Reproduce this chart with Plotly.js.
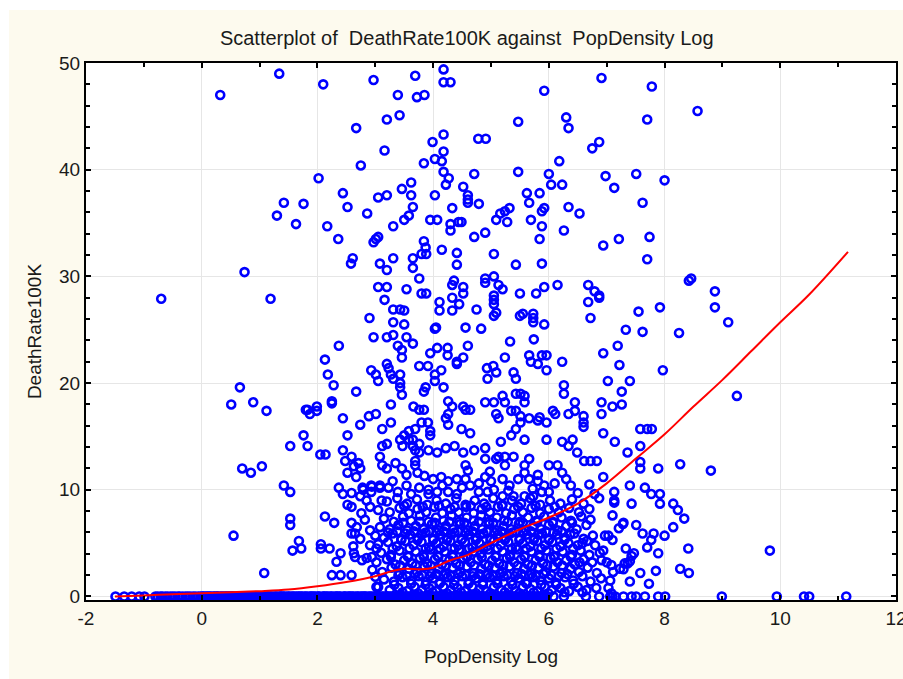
<!DOCTYPE html>
<html>
<head>
<meta charset="utf-8">
<script src="https://cdn.plot.ly/plotly-3.0.1.min.js"></script>
<style>
  html, body { margin: 0; padding: 0; background: #ffffff; width: 903px; height: 679px; overflow: hidden; }
  #chart { position: absolute; left: 9px; top: 10px; width: 894px; height: 669px; }
</style>
</head>
<body>
<div id="chart"></div>
<script>
// Title / axis labels
const chartTitle = "Scatterplot of  DeathRate100K against  PopDensity Log";
const xTitle = "PopDensity Log";
const yTitle = "DeathRate100K";
const xTickVals = [-2, 0, 2, 4, 6, 8, 10, 12];
const yTickVals = [0, 10, 20, 30, 40, 50];

// Sparse / outlying points [PopDensity Log, DeathRate100K]
const outerPts = [
  [0.32,47.0],[1.34,49.0],[2.10,48.0],[2.67,43.9],[2.02,39.2],[2.44,37.8],[1.42,36.9],[1.76,36.8],[2.52,36.5],[1.30,35.7],[1.63,34.9],[2.17,34.7],[2.36,33.5],[2.61,31.7],[2.58,31.2],[0.74,30.4],[-0.70,27.9],[1.19,27.9],
  [2.97,48.4],[3.69,48.8],[4.18,49.4],[4.18,48.2],[4.30,48.2],[3.39,47.0],[3.72,46.8],[3.85,47.0],[5.92,47.4],[6.91,48.6],[3.20,44.7],[3.42,45.1],[5.47,44.5],[6.30,44.9],[6.34,43.9],[4.18,43.3],[3.99,42.6],[4.78,42.9],[4.91,42.9],[3.16,41.8],[4.18,41.7],[4.03,41.0],[4.15,40.8],[3.84,40.6],[2.75,40.4],[6.75,42.0],[6.87,42.6],[6.18,40.8],[4.18,39.8],[4.27,39.2],[4.22,38.6],[4.71,39.6],[5.47,39.8],[6.00,39.6],[6.04,38.6],[6.23,38.6],[6.98,39.4],[7.13,38.3],[3.62,38.8],[3.46,38.2],[3.62,37.6],[3.65,36.5],[3.05,37.4],[3.20,37.6],[4.03,37.6],[4.52,38.4],[4.60,37.6],[4.60,37.2],[4.60,36.9],[4.79,36.8],[4.33,36.4],[2.86,35.9],[3.58,35.7],[3.50,35.3],[3.31,34.7],[3.95,35.3],[4.07,35.3],[4.30,34.9],[4.30,34.3],[4.44,35.1],[4.49,35.1],[4.90,34.1],[4.71,33.7],[5.09,35.3],[5.16,35.9],[5.24,36.1],[5.32,36.4],[5.28,35.1],[5.69,35.3],[5.62,37.8],[5.66,36.9],[5.84,37.8],[5.88,36.1],[5.92,36.4],[5.88,34.7],[5.84,33.5],[6.34,36.5],[6.53,35.9],[6.26,34.3],[6.94,32.9],[7.21,33.5],[2.97,33.2],[3.01,33.5],[3.05,33.7],[3.84,33.3],[3.87,32.7],[3.80,32.1],[3.88,32.1],[3.08,31.2],[3.20,30.6],[3.31,31.7],[3.65,31.7],[3.65,30.8],[3.76,29.8],[4.15,32.5],[4.41,32.2],[4.41,31.1],[5.05,32.1],[5.43,31.1],[5.88,31.2],[5.05,30.0],[4.90,29.8],[4.90,29.4],[4.36,29.6],[4.33,29.2],[4.52,29.0],[4.52,28.4],[5.13,29.2],[5.20,28.8],[3.05,29.0],[3.20,29.0],[3.54,28.8],[3.80,28.4],[3.88,28.4],[3.16,27.8],[3.31,26.9],[3.43,26.9],[3.50,26.8],[2.90,26.1],[3.31,25.7],[3.50,25.5],[4.11,27.6],[4.11,26.8],[4.33,28.0],[4.33,26.8],[4.45,27.4],[4.75,26.9],[5.05,28.2],[5.05,27.8],[5.05,27.4],[5.09,26.6],[5.05,26.3],[5.50,28.4],[5.78,28.4],[5.92,29.0],[6.15,29.2],[5.50,26.3],[5.55,26.5],[5.73,26.5],[5.73,26.1],[5.73,25.7],[5.92,25.5],[6.68,29.2],[6.79,28.6],[6.87,28.2],[6.87,28.0],[6.68,27.6],[6.72,26.1],[4.05,25.2],[4.03,25.1],[4.56,25.2],[4.83,25.1],
  [7.78,47.8],[7.70,44.7],[8.57,45.5],[7.51,39.6],[8.00,39.0],[7.62,36.9],[7.74,33.7],[7.70,31.6],[8.42,29.6],[8.46,29.8],[8.87,28.6],[7.92,27.1],[7.55,26.7],[8.87,27.1],[9.10,25.7],[7.33,25.0],[7.62,24.8],[8.25,24.7],
  [2.37,23.5],[2.13,22.2],[2.18,20.8],[2.28,19.8],[2.25,18.3],[2.25,18.1],[2.44,16.7],[2.67,19.2],[0.66,19.6],[0.51,18.0],[0.89,18.2],[1.12,17.4],[1.80,17.5],[1.83,17.5],[1.87,17.1],[1.99,17.8],[1.99,17.4],[1.76,15.1],[1.83,14.1],[1.53,14.1],[2.52,15.1],[2.05,13.3],[2.14,13.3],[2.44,13.7],[2.48,12.7],[2.52,11.6],[2.59,13.1],[2.63,12.2],[0.70,12.0],[0.85,11.6],[1.04,12.2],[1.42,10.4],[1.53,9.8],[2.37,10.2],[2.44,9.6],[2.52,8.6],[1.53,7.3],[1.53,6.7],[2.13,7.5],[2.29,6.9],[2.59,6.9],[2.59,5.9],[0.55,5.7],[1.68,5.2],[1.57,4.3],[1.72,4.5],[2.06,4.9],[2.06,4.5],[2.21,4.5],[2.40,4.05],[2.33,3.25],[2.63,4.05],[1.08,2.2],[2.25,2.0],[2.40,2.0],[2.59,2.0],
  [2.65,3.7],[2.62,4.7],[2.77,3.4],[2.85,3.6],[2.94,3.7],[2.91,4.8],[2.91,6.2],[3.02,4.5],[3.00,1.85],[3.02,0.9],[2.65,5.9],[2.74,5.4],[2.68,6.5],[2.74,9.4],[2.79,10.0],[2.76,7.8],[2.82,7.2],[2.91,8.4],[2.85,9.0],[2.94,10.3],[3.08,10.4],[3.11,9.0],[2.59,9.7],[2.59,8.4],
  [2.97,24.3],[3.20,24.3],[3.31,24.5],[3.54,24.3],[5.33,23.9],[5.74,24.1],[3.39,23.5],[3.46,23.1],[3.46,22.4],[3.65,23.7],[3.95,22.8],[4.07,23.3],[4.25,22.6],[4.25,23.3],[4.41,22.0],[4.41,21.8],[4.52,22.4],[4.60,23.5],[5.24,22.4],[5.66,22.6],[5.69,22.0],[5.81,21.8],[5.88,22.6],[5.96,22.6],[5.96,21.2],[6.23,22.0],[6.94,22.8],[7.19,23.5],[7.22,21.7],
  [2.93,21.2],[3.01,20.8],[3.05,20.2],[3.20,21.8],[3.23,21.4],[3.27,20.8],[3.31,20.4],[3.43,20.8],[3.43,19.6],[3.46,18.9],[3.43,20.0],[3.76,21.6],[3.91,21.6],[4.03,20.8],[4.03,20.2],[4.14,21.2],[4.18,19.6],[3.87,19.6],[3.84,19.2],
  [4.93,21.4],[5.04,21.6],[5.09,21.0],[4.94,20.4],[4.90,18.2],[5.05,18.2],[5.20,18.8],[5.24,18.2],[5.39,21.0],[5.43,20.4],[5.43,19.0],[5.51,19.0],[5.58,18.8],[5.58,18.2],[5.43,17.4],[5.35,17.4],[6.26,19.8],[6.26,19.0],[6.45,18.2],[6.91,18.2],[7.02,20.2],[7.10,17.8],[7.26,19.2],[7.26,18.0],
  [3.27,18.0],[3.66,17.8],[3.76,17.5],[3.84,17.5],[4.26,18.3],[4.33,17.8],[4.52,17.8],[4.56,17.5],[4.64,17.5],[4.26,17.1],[4.22,16.7],[4.26,16.1],[4.49,15.7],[4.64,15.3],[2.89,16.9],[3.01,17.1],[2.74,16.1],
  [3.12,15.7],[3.27,16.3],[3.58,15.5],[3.50,15.1],[3.69,15.7],[3.80,16.3],[3.91,16.3],[3.95,15.5],[3.95,15.1],[3.65,14.1],
  [5.09,17.1],[5.13,16.7],[5.51,16.9],[5.51,16.3],[5.43,15.7],[5.35,15.1],[5.58,14.7],[5.66,16.7],[5.81,16.5],[5.84,16.8],[5.96,16.3],[6.07,17.4],[6.11,17.1],[6.34,17.1],[6.45,17.4],[6.60,16.9],[6.60,16.3],[6.60,15.9],[6.91,17.1],[6.94,15.3],[7.14,14.5],
  [5.96,14.7],[6.23,14.5],[6.34,14.1],[6.41,14.7],[6.49,13.5],[6.61,12.7],[6.72,12.7],[6.83,12.7],
  [3.12,14.1],[3.20,14.3],[3.43,14.7],[3.47,14.1],[3.58,14.7],[3.65,14.7],[3.76,14.3],[3.76,13.5],[3.92,13.7],[3.69,13.7],
  [4.07,13.5],[4.22,13.9],[4.37,14.1],[4.52,13.5],[4.71,13.7],[4.90,13.9],[4.90,12.9],[5.17,14.5],[5.09,12.9],[5.13,13.1],[5.24,13.1],[5.39,13.1],[5.66,12.9],[5.58,12.3],[5.24,12.3],[4.98,11.7],
  [2.71,12.5],[2.74,12.0],[2.67,11.2],[2.78,10.2],[2.93,10.4],[2.93,9.8],[3.08,13.1],[3.12,12.3],[3.20,12.0],[3.35,12.5],[3.46,12.0],[3.54,11.4],[3.69,12.3],[3.69,12.7],[3.73,11.6],
  [4.00,11.0],[4.14,11.2],[4.26,10.8],[4.41,11.0],[4.56,12.3],[4.60,11.8],[4.56,11.0],[4.64,10.4],[4.79,10.6],[4.79,9.8],[4.41,9.6],[4.26,9.8],[4.07,9.8],[3.92,9.6],[3.92,10.0],[3.76,10.2],[3.54,10.4],[3.39,9.8],[3.23,10.2],[3.08,10.2],
  [5.20,11.0],[5.32,10.4],[5.47,11.0],[5.58,11.6],[5.66,11.0],[5.81,11.4],[5.81,10.8],[5.92,10.4],[6.00,12.3],[6.15,12.3],[6.23,11.6],[6.30,11.0],[6.38,10.4],[6.00,9.8],[5.88,9.8],[5.73,9.4],[5.58,9.4],[5.39,9.4],[5.20,9.4],[5.05,10.0],[4.94,9.8],
  [6.79,9.6],[6.87,9.2],[6.94,11.2],[7.13,9.8],[7.13,9.0],[7.10,7.6],[7.29,6.9],[7.13,8.8],[7.28,6.8],[7.21,6.4],[6.97,5.7],[7.03,5.7],[7.10,5.3],[6.94,4.3],[6.91,3.4],[7.00,3.2],[7.08,2.95],[7.11,2.3],[7.06,1.5],[7.03,0.8],[7.08,0.3],[7.29,2.55],[7.23,2.6],[7.31,3.1],
  [7.97,21.2],[7.40,20.2],[9.25,18.8],[7.58,15.7],[7.70,15.7],[7.78,15.7],[7.58,14.1],[7.36,13.5],[7.58,12.6],[7.58,12.0],[7.89,12.0],[8.27,12.4],[8.80,11.8],[7.40,10.4],[7.66,10.2],[7.77,9.6],[7.92,9.6],[7.43,8.7],[7.92,8.7],[8.15,8.7],[8.23,8.1],[8.34,7.3],[7.51,6.7],[7.62,5.9],[7.81,5.9],[8.00,5.7],[8.15,6.5],[7.77,5.3],[7.70,4.6],[8.41,4.5],[9.82,4.3],[7.33,4.5],[7.43,3.8],[7.47,4.05],[7.36,3.1],[7.40,3.3],[7.89,4.05],[7.58,2.2],[7.85,2.4],[8.27,2.6],[8.42,2.2],[7.40,1.4],[7.73,1.2]
];

// Dense cluster points (low death rates, mid densities)
const densePts = [
  [3.05,0.9],[3.25,0.6],[3.40,0.8],[3.55,0.5],[3.68,0.9],[3.80,0.6],[3.93,0.8],[4.05,0.5],[4.18,0.9],[4.30,0.6],[4.42,0.8],[4.55,0.5],[4.68,0.9],[4.80,0.7],[4.92,0.5],[5.05,0.9],[5.18,0.6],[5.30,0.8],[5.43,0.5],[5.55,0.9],[5.68,0.7],[5.80,0.5],[5.93,0.9],[6.05,0.6],[6.20,0.8],[6.35,0.5],[6.50,0.9],[6.65,0.6],[6.82,0.8],
  [3.33,1.1],[3.47,0.4],[3.62,1.2],[3.74,0.3],[3.87,1.1],[3.99,0.4],[4.11,1.2],[4.24,0.3],[4.36,1.1],[4.48,0.4],[4.61,1.2],[4.74,0.3],[4.86,1.1],[4.99,0.3],[5.11,1.2],[5.24,0.4],[5.37,1.1],[5.49,0.3],[5.62,1.2],[5.74,0.4],[5.87,1.1],[5.99,0.3],[6.13,1.1],[6.27,0.4],[6.43,1.2],[6.58,0.4],
  [3.15,1.6],[3.32,1.4],[3.47,1.8],[3.62,1.5],[3.75,1.9],[3.88,1.4],[4.00,1.7],[4.12,1.3],[4.25,1.8],[4.37,1.5],[4.50,1.9],[4.62,1.4],[4.74,1.7],[4.86,1.3],[4.98,1.8],[5.10,1.5],[5.22,1.9],[5.35,1.4],[5.48,1.7],[5.60,1.3],[5.72,1.8],[5.85,1.5],[6.00,1.7],[6.12,1.3],[6.28,1.8],[6.42,1.5],[6.58,1.9],[6.72,1.4],[6.90,1.7],
  [3.40,2.0],[3.55,1.9],[3.68,2.1],[3.81,2.0],[3.94,1.9],[4.06,2.1],[4.18,2.0],[4.31,1.9],[4.43,2.1],[4.56,2.0],[4.68,1.9],[4.80,2.1],[4.92,2.0],[5.04,1.9],[5.16,2.1],[5.28,2.0],[5.41,1.9],[5.53,2.1],[5.66,2.0],[5.78,1.9],[5.91,2.1],[6.04,2.0],[6.17,1.9],[6.32,2.1],
  [2.95,2.5],[3.12,2.3],[3.28,2.7],[3.42,2.2],[3.58,2.6],[3.72,2.3],[3.85,2.8],[3.97,2.2],[4.10,2.6],[4.22,2.1],[4.34,2.7],[4.47,2.3],[4.58,2.8],[4.70,2.2],[4.83,2.6],[4.95,2.1],[5.07,2.7],[5.20,2.3],[5.32,2.8],[5.45,2.2],[5.57,2.6],[5.70,2.1],[5.82,2.7],[5.95,2.3],[6.08,2.8],[6.22,2.2],[6.38,2.6],[6.52,2.3],[6.67,2.7],[6.83,2.2],
  [3.02,3.2],[3.20,3.5],[3.35,3.0],[3.50,3.4],[3.64,3.1],[3.77,3.6],[3.90,3.1],[4.03,3.5],[4.15,3.0],[4.28,3.4],[4.40,3.1],[4.52,3.6],[4.65,3.2],[4.77,3.5],[4.90,3.0],[5.02,3.4],[5.14,3.1],[5.27,3.6],[5.40,3.2],[5.52,3.5],[5.64,3.0],[5.77,3.4],[5.90,3.1],[6.03,3.6],[6.15,3.2],[6.30,3.4],[6.45,3.0],[6.60,3.5],[6.75,3.2],
  [3.27,3.7],[3.43,2.9],[3.57,3.7],[3.70,2.9],[3.84,3.7],[3.96,2.9],[4.09,3.7],[4.22,2.9],[4.34,3.7],[4.46,2.9],[4.59,3.7],[4.71,2.9],[4.84,3.7],[4.96,2.9],[5.08,3.7],[5.21,2.9],[5.33,3.7],[5.46,2.9],[5.58,3.7],[5.71,2.9],[5.84,3.7],[5.97,2.9],[6.09,3.7],[6.23,2.9],[6.38,3.7],[6.53,3.2],
  [3.10,4.1],[3.27,3.9],[3.42,4.3],[3.56,3.8],[3.70,4.2],[3.83,3.9],[3.96,4.4],[4.08,3.8],[4.20,4.2],[4.33,3.9],[4.45,4.4],[4.57,3.8],[4.70,4.2],[4.82,4.0],[4.95,4.4],[5.08,3.8],[5.20,4.2],[5.33,3.9],[5.46,4.4],[5.58,3.8],[5.70,4.2],[5.83,3.9],[5.96,4.3],[6.10,3.8],[6.24,4.2],[6.40,3.9],[6.55,4.3],[6.70,3.9],[6.88,4.1],
  [3.30,4.5],[3.45,5.3],[3.59,4.5],[3.73,5.3],[3.87,4.5],[4.00,5.3],[4.12,4.5],[4.24,5.3],[4.37,4.5],[4.49,5.3],[4.62,4.5],[4.74,5.3],[4.87,4.5],[4.99,5.3],[5.11,4.5],[5.24,5.3],[5.36,4.5],[5.49,5.3],[5.61,4.5],[5.74,5.3],[5.87,4.5],[6.00,5.3],[6.13,4.5],[6.27,5.3],[6.42,4.5],[6.58,5.0],
  [3.05,4.9],[3.22,5.1],[3.37,4.7],[3.52,5.2],[3.66,4.8],[3.80,5.1],[3.93,4.6],[4.06,5.0],[4.18,4.7],[4.30,5.2],[4.43,4.8],[4.55,5.1],[4.68,4.6],[4.80,5.0],[4.93,4.7],[5.05,5.2],[5.17,4.8],[5.30,5.1],[5.43,4.6],[5.55,5.0],[5.68,4.7],[5.80,5.2],[5.93,4.8],[6.06,5.1],[6.20,4.7],[6.34,5.0],[6.50,4.8],[6.66,5.2],[6.80,4.8],
  [3.00,5.7],[3.15,5.5],[3.30,5.9],[3.45,5.4],[3.60,5.8],[3.74,5.5],[3.87,6.0],[4.00,5.4],[4.12,5.8],[4.25,5.5],[4.37,6.0],[4.50,5.4],[4.62,5.8],[4.75,5.5],[4.87,5.9],[5.00,5.4],[5.12,5.8],[5.25,5.5],[5.37,6.0],[5.50,5.4],[5.62,5.8],[5.75,5.5],[5.88,5.9],[6.00,5.4],[6.14,5.8],[6.28,5.5],[6.44,5.9],[6.60,5.4],[6.76,5.7],
  [3.22,6.0],[3.38,6.1],[3.52,5.9],[3.67,6.1],[3.80,5.8],[3.93,6.1],[4.06,6.0],[4.18,6.1],[4.31,5.8],[4.43,6.1],[4.56,6.0],[4.68,6.1],[4.81,5.8],[4.93,6.1],[5.06,6.0],[5.18,6.1],[5.31,5.8],[5.43,6.1],[5.56,6.0],[5.69,6.1],[5.82,5.8],[5.95,6.1],[6.08,6.0],[6.22,6.1],[6.37,5.8],
  [3.08,6.5],[3.25,6.3],[3.40,6.7],[3.55,6.2],[3.70,6.6],[3.84,6.3],[3.98,6.8],[4.10,6.2],[4.22,6.6],[4.35,6.3],[4.47,6.8],[4.60,6.2],[4.72,6.6],[4.85,6.3],[4.97,6.8],[5.10,6.2],[5.22,6.6],[5.35,6.3],[5.48,6.8],[5.60,6.2],[5.73,6.6],[5.87,6.3],[6.00,6.7],[6.15,6.2],[6.30,6.6],[6.48,6.3],[6.65,6.7],
  [3.48,6.9],[3.77,7.0],[4.03,6.9],[4.28,7.0],[4.54,6.9],[4.79,7.0],[5.04,6.9],[5.29,7.0],[5.55,6.9],[5.80,7.0],[6.07,6.9],[6.40,6.9],
  [3.15,7.3],[3.32,7.0],[3.48,7.5],[3.62,7.1],[3.77,7.6],[3.92,7.0],[4.05,7.4],[4.18,7.1],[4.32,7.6],[4.45,7.0],[4.58,7.4],[4.70,7.1],[4.83,7.6],[4.96,7.0],[5.10,7.4],[5.23,7.1],[5.36,7.6],[5.50,7.0],[5.64,7.4],[5.78,7.1],[5.92,7.5],[6.07,7.0],[6.22,7.4],[6.38,7.1],[6.56,7.5],[6.72,7.2],
  [3.05,8.1],[3.25,7.9],[3.42,8.3],[3.58,7.8],[3.73,8.2],[3.88,7.9],[4.02,8.4],[4.16,7.8],[4.30,8.2],[4.44,7.9],[4.57,8.4],[4.70,7.8],[4.84,8.2],[4.98,7.9],[5.12,8.4],[5.26,7.8],[5.40,8.2],[5.55,7.9],[5.70,8.3],[5.85,7.8],[6.00,8.2],[6.17,7.9],[6.35,8.3],[6.52,7.9],[6.70,8.2],
  [3.50,8.5],[3.82,8.4],[4.10,8.5],[4.37,8.4],[4.65,8.5],[4.92,8.4],[5.19,8.5],[5.47,8.4],[5.77,8.5],[6.10,8.4],
  [3.20,8.9],[3.38,9.2],[3.55,8.7],[3.72,9.1],[3.90,8.6],[4.06,9.0],[4.22,8.7],[4.40,9.2],[4.56,8.6],[4.72,9.0],[4.88,8.7],[5.04,9.2],[5.20,8.6],[5.36,9.0],[5.52,8.7],[5.68,9.2],[5.85,8.6],[6.02,9.0],[6.20,8.7],[6.40,9.1],[6.60,8.7],
  [3.30,10.8],[3.62,9.6],[4.16,10.4],[4.50,10.2],[5.00,10.8],[5.30,9.9],[5.72,10.1],[6.10,10.6],[6.50,9.7],[6.70,10.5],[3.85,11.3],[4.90,11.2]
];

// Counties with a death rate of zero (x = PopDensity Log)
const zeroX = [
  -1.49,-1.34,-1.21,-1.08,-0.99,
  -0.80,-0.76,-0.71,-0.68,-0.63,-0.59,-0.54,-0.50,-0.46,-0.41,-0.38,-0.33,-0.28,-0.24,-0.20,-0.15,-0.11,-0.06,-0.02,0.03,0.06,0.11,0.16,0.20,0.25,0.29,0.33,0.38,0.41,0.46,0.51,0.55,0.60,0.64,0.68,0.73,0.76,0.81,0.86,0.90,0.95,0.99,1.03,1.08,1.12,1.16,1.21,1.25,1.30,1.34,1.38,1.43,1.47,1.52,1.56,1.61,1.64,1.69,1.74,1.78,1.83,1.87,1.91,1.96,2.00,2.04,2.09,2.13,2.18,2.22,2.27,2.31,2.35,2.40,2.45,2.49,2.53,2.57,2.62,2.66,2.71,2.75,2.80,2.84,2.88,2.93,2.97,3.01,3.06,3.10,3.15,3.19,3.23,3.28,3.32,3.37,3.41,3.45,3.50,3.54,3.59,3.63,3.67,3.72,3.76,3.81,3.85,3.89,3.94,3.98,4.03,4.07,4.11,4.16,4.20,4.25,4.29,4.33,4.38,4.42,4.47,4.51,4.55,4.60,4.64,4.69,4.73,4.77,4.82,4.86,4.91,4.95,4.99,5.04,5.08,5.13,5.17,5.21,5.26,5.30,5.35,5.39,5.43,5.48,5.52,5.57,5.61,5.65,5.70,5.74,5.79,5.83,5.87,5.92,5.96,
  0.01,0.09,0.14,0.22,0.27,0.35,0.43,0.48,0.53,0.62,0.70,0.79,0.84,0.93,1.01,1.06,1.14,1.19,1.28,1.36,1.41,1.50,1.58,1.67,1.72,1.80,1.89,1.94,2.02,2.11,2.16,2.24,2.33,2.38,2.47,2.55,2.60,2.69,2.77,2.82,2.91,2.99,3.04,3.13,3.21,3.26,3.35,3.43,3.48,3.57,3.65,3.70,3.79,3.87,3.92,4.01,4.09,4.14,4.23,4.31,4.36,4.45,4.53,4.58,4.67,4.75,4.80,4.89,4.97,5.02,5.11,5.19,5.24,5.33,5.41,5.46,5.55,5.63,5.68,5.77,5.85,5.90,
  6.08,6.26,6.64,6.87,7.06,7.10,7.15,7.29,7.43,7.51,7.66,7.89,8.01,8.99,9.94,10.41,10.50,11.14
];

// Fitted smoothing curve (red)
const fitX = [-1.5,-1.0,-0.5,0.0,0.5,1.0,1.5,2.0,2.5,3.0,3.3,3.5,3.8,4.0,4.3,4.6,5.0,5.5,6.0,6.5,7.0,7.5,8.0,8.5,9.0,9.5,10.0,10.5,11.17];
const fitY = [0.0,0.1,0.2,0.3,0.4,0.5,0.65,0.95,1.35,1.9,2.4,2.6,2.55,2.7,3.4,3.9,5.0,6.3,7.4,8.7,10.6,12.9,15.2,17.8,20.3,23.0,25.7,28.3,32.3];

const zeroY = zeroX.map(() => 0);
const ptsX = outerPts.map(p => p[0]).concat(densePts.map(p => p[0]), zeroX);
const ptsY = outerPts.map(p => p[1]).concat(densePts.map(p => p[1]), zeroY);

const fontFam = "'Liberation Sans', Arial, sans-serif";

const traces = [
  {
    type: 'scatter', mode: 'markers', x: ptsX, y: ptsY,
    marker: { symbol: 'circle-open', size: 8, color: '#0000ff', line: { width: 2.6, color: '#0000ff' } },
    hoverinfo: 'x+y', showlegend: false
  },
  {
    type: 'scatter', mode: 'lines', x: fitX, y: fitY,
    line: { color: '#ff0000', width: 2, shape: 'spline', smoothing: 1 },
    showlegend: false
  }
];

const layout = {
  width: 894, height: 669,
  paper_bgcolor: 'rgb(253,250,238)',
  plot_bgcolor: '#ffffff',
  margin: { l: 77, r: 7, t: 53, b: 79 },
  font: { family: fontFam, color: '#1a1a1a', size: 19 },
  title: { text: chartTitle, font: { family: fontFam, size: 20, color: '#1a1a1a' }, x: 0.512, xanchor: 'center', y: 0.958, yanchor: 'middle', yref: 'container' },
  xaxis: {
    range: [-2, 12], tickvals: xTickVals, ticktext: xTickVals.map(String),
    ticklabeloverflow: 'allow',
    showgrid: true, gridcolor: '#e6e6e6', gridwidth: 1, zeroline: false,
    showline: true, linecolor: '#000000', linewidth: 2, mirror: 'allticks',
    ticks: 'inside', ticklen: 5, tickwidth: 2, tickcolor: '#000000',
    minor: { dtick: 1, tick0: 0, ticks: 'inside', ticklen: 4, tickwidth: 2, tickcolor: '#000000', showgrid: false },
    tickfont: { family: fontFam, size: 19, color: '#1a1a1a' },
    title: { text: xTitle, font: { family: fontFam, size: 19, color: '#1a1a1a' }, standoff: 22 },
    automargin: false
  },
  yaxis: {
    range: [-0.33, 50], tickvals: yTickVals, ticktext: yTickVals.map(String),
    ticklabeloverflow: 'allow',
    showgrid: true, gridcolor: '#e6e6e6', gridwidth: 1, zeroline: false,
    showline: true, linecolor: '#000000', linewidth: 2, mirror: 'allticks',
    ticks: 'inside', ticklen: 5, tickwidth: 2, tickcolor: '#000000',
    minor: { dtick: 2, tick0: 0, ticks: 'inside', ticklen: 4, tickwidth: 2, tickcolor: '#000000', showgrid: false },
    tickfont: { family: fontFam, size: 19, color: '#1a1a1a' },
    title: { text: yTitle, font: { family: fontFam, size: 19, color: '#1a1a1a' }, standoff: 12 },
    automargin: false
  }
};

Plotly.newPlot('chart', traces, layout, { displayModeBar: false, staticPlot: true });
</script>
</body>
</html>
